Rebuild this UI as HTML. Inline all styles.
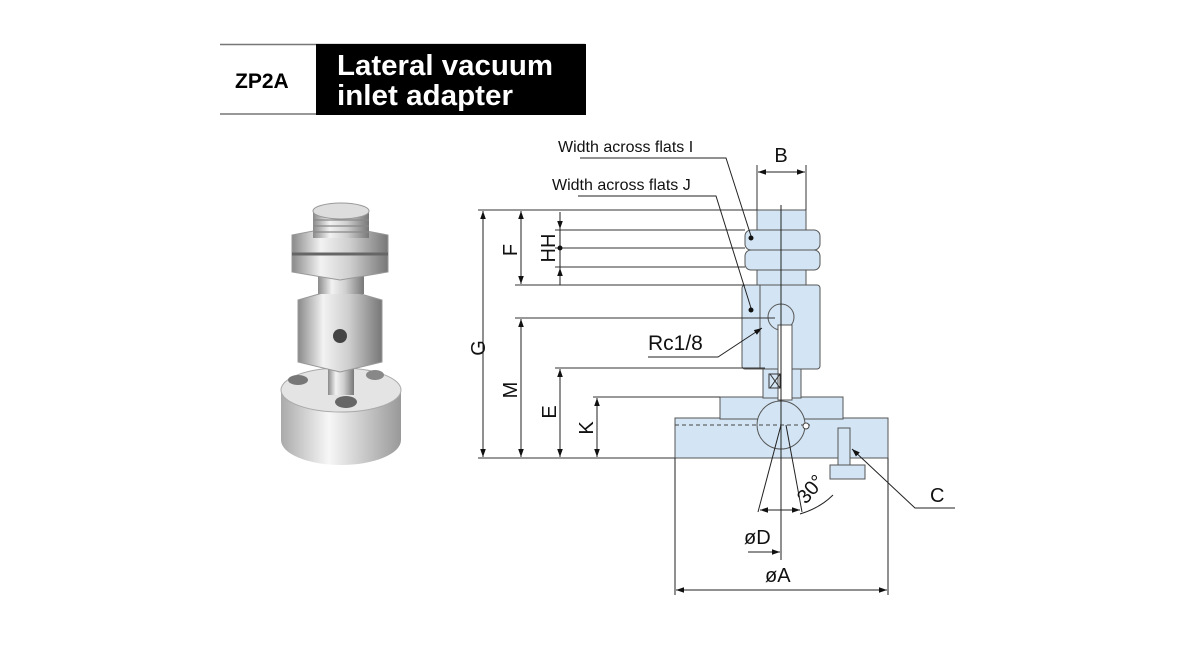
<!DOCTYPE html>
<html><head><meta charset="utf-8"><style>
body{margin:0;background:#fff;width:1200px;height:650px;overflow:hidden}
svg{position:absolute;left:0;top:0}
</style></head><body>
<svg width="1200" height="650" viewBox="0 0 1200 650" font-family="Liberation Sans, Arial, sans-serif">
<defs>
<marker id="a" viewBox="0 0 10 10" refX="10" refY="5" markerWidth="11" markerHeight="8" orient="auto-start-reverse"><path d="M0,1.5 L10,5 L0,8.5 z" fill="#111"/></marker>
<linearGradient id="m" x1="0" x2="1"><stop offset="0" stop-color="#8a8a8a"/><stop offset=".3" stop-color="#f2f2f2"/><stop offset=".6" stop-color="#cfcfcf"/><stop offset="1" stop-color="#777"/></linearGradient>
<linearGradient id="m2" x1="0" x2="1"><stop offset="0" stop-color="#aaa"/><stop offset=".4" stop-color="#f7f7f7"/><stop offset="1" stop-color="#999"/></linearGradient>
</defs>
<!-- header -->
<line x1="220" y1="44.5" x2="585" y2="44.5" stroke="#777" stroke-width="1.5"/>
<line x1="220" y1="114" x2="585" y2="114" stroke="#777" stroke-width="1.5"/>
<rect x="316" y="44" width="270" height="71" fill="#000"/>
<text x="235" y="88" font-size="21" font-weight="bold">ZP2A</text>
<text x="337" y="75" font-size="29" font-weight="bold" fill="#fff" textLength="216" lengthAdjust="spacingAndGlyphs">Lateral vacuum</text>
<text x="337" y="105" font-size="29" font-weight="bold" fill="#fff" textLength="176" lengthAdjust="spacingAndGlyphs">inlet adapter</text>
<!-- photo -->
<rect x="281" y="390" width="120" height="50" fill="url(#m2)"/>
<ellipse cx="341" cy="440" rx="60" ry="25" fill="url(#m2)"/>
<rect x="281" y="390" width="120" height="48" fill="url(#m2)"/>
<ellipse cx="341" cy="390" rx="60" ry="22" fill="#e4e4e4" stroke="#aaa"/>
<ellipse cx="298" cy="380" rx="10" ry="5" fill="#777"/><ellipse cx="375" cy="375" rx="9" ry="5" fill="#888"/><ellipse cx="346" cy="402" rx="11" ry="6" fill="#666"/>
<rect x="328" y="365" width="26" height="30" fill="url(#m)"/>
<path d="M298 300 L340 288 L382 300 L382 362 L340 372 L298 362z" fill="url(#m)" stroke="#999"/>
<circle cx="340" cy="336" r="7" fill="#444"/>
<rect x="318" y="272" width="46" height="22" fill="url(#m)"/>
<path d="M292 235 L340 226 L388 235 L388 272 L340 280 L292 272z" fill="url(#m)" stroke="#999"/>
<line x1="292" y1="254" x2="388" y2="254" stroke="#666" stroke-width="3"/>
<rect x="313" y="210" width="56" height="28" fill="url(#m)"/>
<ellipse cx="341" cy="211" rx="28" ry="8" fill="#ddd" stroke="#999"/>
<g stroke="#888" stroke-width="1.2"><line x1="313" y1="220" x2="369" y2="220"/><line x1="313" y1="226" x2="369" y2="226"/><line x1="313" y1="232" x2="369" y2="232"/></g>
<!-- drawing parts -->
<g fill="#d3e5f4" stroke="#555" stroke-width="1">
<rect x="675" y="418" width="213" height="40"/>
<rect x="720" y="397" width="123" height="22"/>
<rect x="763" y="368" width="38" height="30"/>
<rect x="742" y="285" width="78" height="84" rx="3"/>
<rect x="757" y="210" width="49" height="75"/>
<rect x="745" y="230" width="75" height="20" rx="6"/>
<rect x="745" y="250" width="75" height="20" rx="6"/>
<circle cx="781" cy="425" r="24"/>
<rect x="838" y="428" width="12" height="38"/>
<rect x="830" y="465" width="35" height="14"/>
</g>
<line x1="760" y1="285" x2="760" y2="369" stroke="#555"/>
<circle cx="781" cy="317" r="13" fill="#d3e5f4" stroke="#555"/>
<rect x="778" y="325" width="14" height="75" fill="#fff" stroke="#555"/>
<path d="M770 374 L780 388 M780 374 L770 388" stroke="#333"/><rect x="769" y="374" width="11" height="14" fill="none" stroke="#333"/>
<line x1="675" y1="425" x2="810" y2="425" stroke="#444" stroke-dasharray="4,3"/>
<circle cx="806" cy="426" r="3" fill="#fff" stroke="#444"/>
<!-- center / cone -->
<g stroke="#222" stroke-width="1" fill="none">
<line x1="781" y1="205" x2="781" y2="560"/>
<line x1="781" y1="425" x2="758" y2="512"/>
<line x1="786" y1="425" x2="802" y2="512"/>
<path d="M800 514 Q820 508 833 495"/>
<line x1="760" y1="510" x2="800" y2="510" marker-start="url(#a)" marker-end="url(#a)"/>
<line x1="748" y1="552" x2="780" y2="552" marker-end="url(#a)"/>
<line x1="675" y1="458" x2="675" y2="595"/><line x1="888" y1="458" x2="888" y2="595"/>
<line x1="676" y1="590" x2="887" y2="590" marker-start="url(#a)" marker-end="url(#a)"/>
<polyline points="955,508 915,508 852,449" marker-end="url(#a)"/>
<!-- dims -->
<g stroke="#333">
<line x1="478" y1="210" x2="757" y2="210"/>
<line x1="555" y1="230" x2="745" y2="230"/><line x1="555" y1="248" x2="745" y2="248"/><line x1="555" y1="267" x2="745" y2="267"/>
<line x1="515" y1="285" x2="745" y2="285"/>
<line x1="515" y1="318" x2="775" y2="318"/>
<line x1="555" y1="368" x2="765" y2="368"/>
<line x1="593" y1="397" x2="720" y2="397"/>
<line x1="478" y1="458" x2="675" y2="458"/>
<line x1="757" y1="165" x2="757" y2="210"/><line x1="806" y1="165" x2="806" y2="210"/>
</g>
<line x1="483" y1="211" x2="483" y2="457" marker-start="url(#a)" marker-end="url(#a)"/>
<line x1="521" y1="211" x2="521" y2="284" marker-start="url(#a)" marker-end="url(#a)"/>
<line x1="560" y1="212" x2="560" y2="229" marker-end="url(#a)"/>
<line x1="560" y1="285" x2="560" y2="268" marker-end="url(#a)"/>
<line x1="560" y1="229" x2="560" y2="268"/>
<line x1="521" y1="319" x2="521" y2="457" marker-start="url(#a)" marker-end="url(#a)"/>
<line x1="560" y1="369" x2="560" y2="457" marker-start="url(#a)" marker-end="url(#a)"/>
<line x1="597" y1="398" x2="597" y2="457" marker-start="url(#a)" marker-end="url(#a)"/>
<line x1="758" y1="172" x2="805" y2="172" marker-start="url(#a)" marker-end="url(#a)"/>
<polyline points="580,158 726,158 751,236"/>
<polyline points="578,196 716,196 751,308"/>
<polyline points="648,357 718,357 762,328" marker-end="url(#a)"/>
</g>
<circle cx="751" cy="238" r="2.5" fill="#111"/><circle cx="751" cy="310" r="2.5" fill="#111"/><circle cx="560" cy="248" r="2.5" fill="#111"/>
<!-- labels -->
<g font-size="20" fill="#111">
<text x="781" y="162" text-anchor="middle">B</text>
<text x="648" y="350" font-size="21">Rc1/8</text>
<text x="930" y="502">C</text>
<text x="744" y="544">øD</text>
<text x="765" y="582">øA</text>
<text transform="translate(806,505) rotate(-50)" font-size="20">30°</text>
<text transform="translate(485,348) rotate(-90)" text-anchor="middle">G</text>
<text transform="translate(517,250) rotate(-90)" text-anchor="middle">F</text>
<text transform="translate(555,248) rotate(-90)" text-anchor="middle">HH</text>
<text transform="translate(517,390) rotate(-90)" text-anchor="middle">M</text>
<text transform="translate(556,412) rotate(-90)" text-anchor="middle">E</text>
<text transform="translate(593,428) rotate(-90)" text-anchor="middle">K</text>
<text x="558" y="152" font-size="16">Width across flats I</text>
<text x="552" y="190" font-size="16">Width across flats J</text>
</g>
</svg>
</body></html>
